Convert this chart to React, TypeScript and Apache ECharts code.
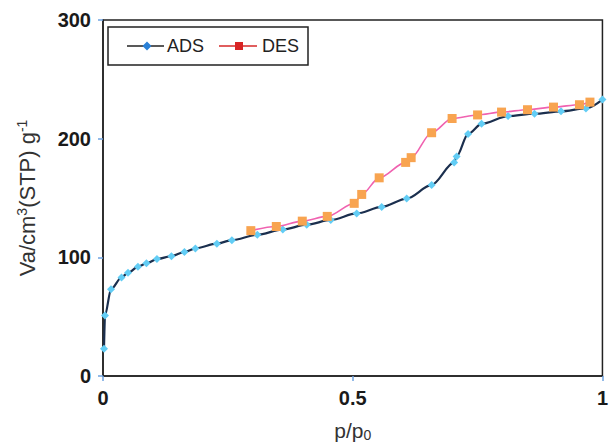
import React, { useEffect, useRef } from "react";
import * as echarts from "echarts";

const adsX = [0.002, 0.004, 0.016, 0.037, 0.05, 0.07, 0.087, 0.108, 0.137, 0.163, 0.185, 0.228, 0.258, 0.309, 0.36, 0.408, 0.456, 0.508, 0.558, 0.608, 0.658, 0.703, 0.708, 0.731, 0.758, 0.811, 0.864, 0.917, 0.967, 1.0];
const adsY = [23, 51, 73, 83, 87, 92, 95, 98.5, 101, 104.5, 107.5, 111.5, 114.5, 119, 123.5, 127.5, 131.5, 137, 142.5, 149.5, 161, 180, 185, 204, 212.5, 219, 221, 223, 225.5, 233];

const desX = [0.296, 0.347, 0.399, 0.449, 0.503, 0.518, 0.553, 0.606, 0.617, 0.658, 0.699, 0.75, 0.798, 0.85, 0.902, 0.954, 0.975];
const desY = [122.5, 126, 130.5, 134.5, 145.5, 153, 167, 180, 184, 205, 217, 220, 222.4, 224.4, 226.6, 228.6, 230.8];

const xTicks = [0, 0.5, 1];
const yTicks = [0, 100, 200, 300];
const seriesNames = ["ADS", "DES"];

export default function App() {
  const ref = useRef<HTMLDivElement>(null);
  useEffect(() => {
    if (!ref.current) return;
    const chart = echarts.init(ref.current, undefined, { renderer: "svg" });
    const ads = adsX.map((x, i) => [x, adsY[i]]);
    const des = desX.map((x, i) => [x, desY[i]]);
    const tickFont = {
      fontFamily: "Liberation Sans",
      fontWeight: "bold" as const,
      fontSize: 20,
      color: "#1a1a1a",
    };
    chart.setOption({
      animation: false,
      backgroundColor: "#ffffff",
      grid: {
        left: 103,
        right: 5,
        top: 20,
        bottom: 66,
        show: true,
        borderColor: "#222",
        borderWidth: 1.5,
        backgroundColor: "transparent",
      },
      xAxis: {
        type: "value",
        min: xTicks[0],
        max: xTicks[xTicks.length - 1],
        interval: 0.5,
        splitLine: { show: false },
        axisLine: { lineStyle: { color: "#222", width: 1.5 } },
        axisTick: { show: true, length: 5, lineStyle: { color: "#6fa3e0", width: 1.5 } },
        axisLabel: { ...tickFont, margin: 12, formatter: (v: number) => String(v) },
        name: "{a|p/p}{s|0}",
        nameLocation: "middle",
        nameGap: 42,
        nameTextStyle: {
          rich: {
            a: { fontFamily: "Liberation Sans", fontSize: 21, color: "#333" },
            s: { fontFamily: "Liberation Sans", fontSize: 14, color: "#333", verticalAlign: "bottom", padding: [10, 0, 0, 0] },
          },
        },
      },
      yAxis: {
        type: "value",
        min: yTicks[0],
        max: yTicks[yTicks.length - 1],
        interval: 100,
        splitLine: { show: false },
        axisLine: { show: true, lineStyle: { color: "#222", width: 1.5 } },
        axisTick: { show: true, length: 5, lineStyle: { color: "#6fa3e0", width: 1.5 } },
        axisLabel: { ...tickFont, margin: 12 },
        name: "{a|Va/cm}{p|3}{a|(STP) g}{p|-1}",
        nameLocation: "middle",
        nameRotate: 90,
        nameGap: 64,
        nameTextStyle: {
          rich: {
            a: { fontFamily: "Liberation Sans", fontSize: 22, color: "#333" },
            p: { fontFamily: "Liberation Sans", fontSize: 14, color: "#333", verticalAlign: "top", padding: [0, 0, 10, 0] },
          },
        },
      },
      series: [
        {
          name: seriesNames[0],
          type: "line",
          data: ads,
          smooth: 0.3,
          smoothMonotone: "x",
          symbol: "diamond",
          symbolSize: 8,
          itemStyle: { color: "#62cdf5" },
          lineStyle: { color: "#1b2f4e", width: 2.2 },
          z: 2,
        },
        {
          name: seriesNames[1],
          type: "line",
          data: des,
          smooth: 0.3,
          smoothMonotone: "x",
          symbol: "rect",
          symbolSize: 9,
          itemStyle: { color: "#f8a450" },
          lineStyle: { color: "#f062b0", width: 1.6 },
          z: 3,
        },
      ],
      graphic: [
        {
          type: "rect",
          shape: { x: 108, y: 27, width: 200, height: 38 },
          style: { fill: "#fff", stroke: "#222", lineWidth: 1.5 },
          z: 10,
        },
        { type: "line", shape: { x1: 127, y1: 46, x2: 164, y2: 46 }, style: { stroke: "#222", lineWidth: 1.5 }, z: 11 },
        { type: "polygon", shape: { points: [[147, 41.5], [151.5, 46], [147, 50.5], [142.5, 46]] }, style: { fill: "#2a80d6" }, z: 12 },
        {
          type: "text",
          x: 167,
          y: 46,
          style: { text: seriesNames[0], fontFamily: "Liberation Sans", fontSize: 18, fill: "#222", verticalAlign: "middle" },
          z: 12,
        },
        { type: "line", shape: { x1: 219, y1: 46, x2: 257, y2: 46 }, style: { stroke: "#d62828", lineWidth: 1.5 }, z: 11 },
        { type: "rect", shape: { x: 235, y: 42, width: 8, height: 8 }, style: { fill: "#d82424" }, z: 12 },
        {
          type: "text",
          x: 262,
          y: 46,
          style: { text: seriesNames[1], fontFamily: "Liberation Sans", fontSize: 18, fill: "#222", verticalAlign: "middle" },
          z: 12,
        },
      ],
    });
    return () => chart.dispose();
  }, []);
  return <div ref={ref} style={{ width: 611, height: 447, position: "absolute", left: 0, top: 0 }} />;
}
